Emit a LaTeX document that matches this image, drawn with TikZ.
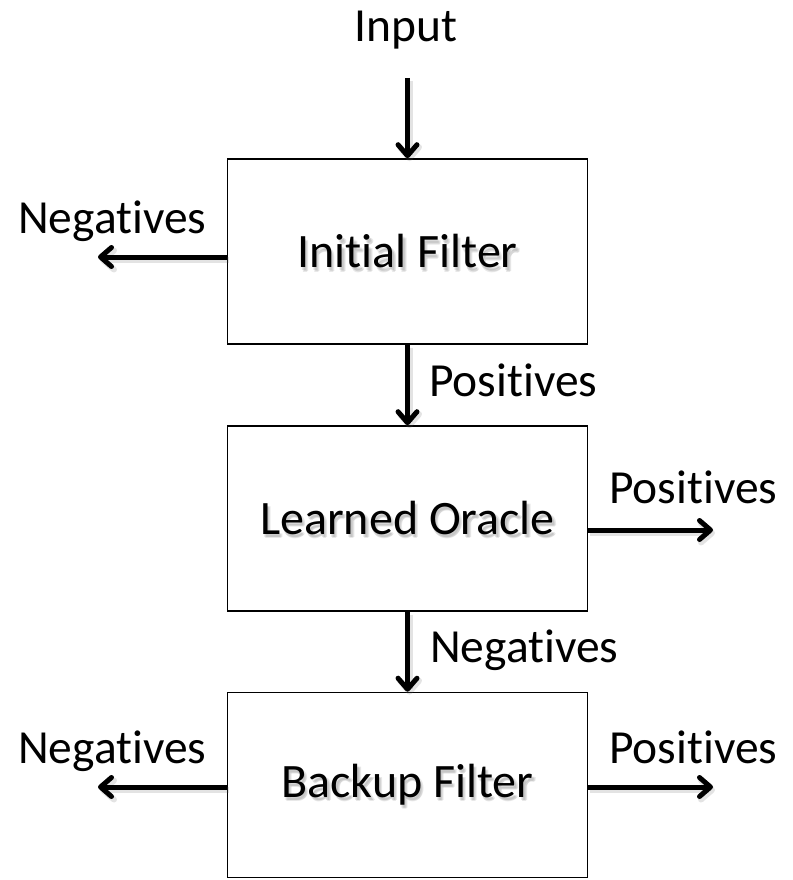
\documentclass[tikz,border=0pt]{standalone}
\usepackage{fontspec}
\setmainfont{Carlito}[Ligatures={NoCommon,NoRare}]
\usetikzlibrary{arrows.meta}

% split the "ti" pair so it is set as two letters
\newcommand\tisplit{t\kern0pt i}

\tikzset{
  block/.style={draw=black, line width=1.6pt, minimum width=360pt, minimum height=185pt,
    inner sep=0pt, font=\fontsize{48}{56}\selectfont},
  blockshadow/.style={inner sep=0pt, text=black!55, opacity=0.16,
    font=\fontsize{48}{56}\selectfont},
  lbl/.style={inner sep=0pt, anchor=base west, font=\fontsize{47.5}{56}\selectfont},
  barb/.style={-{Straight Barb[length=11pt, width=19pt, line cap=round, line join=round]}},
  flow/.style={line width=5pt, barb,
    preaction={draw=black!60, opacity=0.18, line width=6pt, transform canvas={shift={(2pt,-3pt)}}}},
}

\begin{document}
\begin{tikzpicture}[x=1pt, y=-1pt]
  \useasboundingbox (0,0) rectangle (792,880);

  % soft shadows under the block captions
  \foreach \dx/\dy in {1.5/2.5, 2.5/4, 3.5/3} {
    \node[blockshadow] at (407.5+\dx,252+\dy) {Ini\tisplit al Filter};
    \node[blockshadow] at (407.5+\dx,518.5+\dy) {Learned Oracle};
    \node[blockshadow] at (407.5+\dx,785+\dy) {Backup Filter};
  }

  % the three stages
  \node[block] (b1) at (407.5,251.5) {Ini\tisplit al Filter};
  \node[block] (b2) at (407.5,518.5) {Learned Oracle};
  \node[block] (b3) at (407.5,785)   {Backup Filter};

  % free ends of the flows
  \coordinate (in)   at (407.5,78);
  \coordinate (neg1) at (98,257);
  \coordinate (pos2) at (713,530);
  \coordinate (neg3) at (98,787);
  \coordinate (pos3) at (713,787);

  % flows
  \draw[flow] (in) -- (b1.north);
  \draw[flow] (neg1 -| b1.west) -- (neg1);
  \draw[flow] (b1.south) -- (b2.north);
  \draw[flow] (pos2 -| b2.east) -- (pos2);
  \draw[flow] (b2.south) -- (b3.north);
  \draw[flow] (neg3 -| b3.west) -- (neg3);
  \draw[flow] (pos3 -| b3.east) -- (pos3);

  % labels
  \node[lbl, anchor=base] (tin) at (406,42) {Input};
  \node[lbl] (tneg1) at (18,233)  {Nega\tisplit ves};
  \node[lbl] (tpos1) at (429,396) {Posi\tisplit ves};
  \node[lbl] (tpos2) at (609,503) {Posi\tisplit ves};
  \node[lbl] (tneg2) at (430,662) {Nega\tisplit ves};
  \node[lbl] (tneg3) at (18,763)  {Nega\tisplit ves};
  \node[lbl] (tpos3) at (609,763) {Posi\tisplit ves};
\end{tikzpicture}
\end{document}
